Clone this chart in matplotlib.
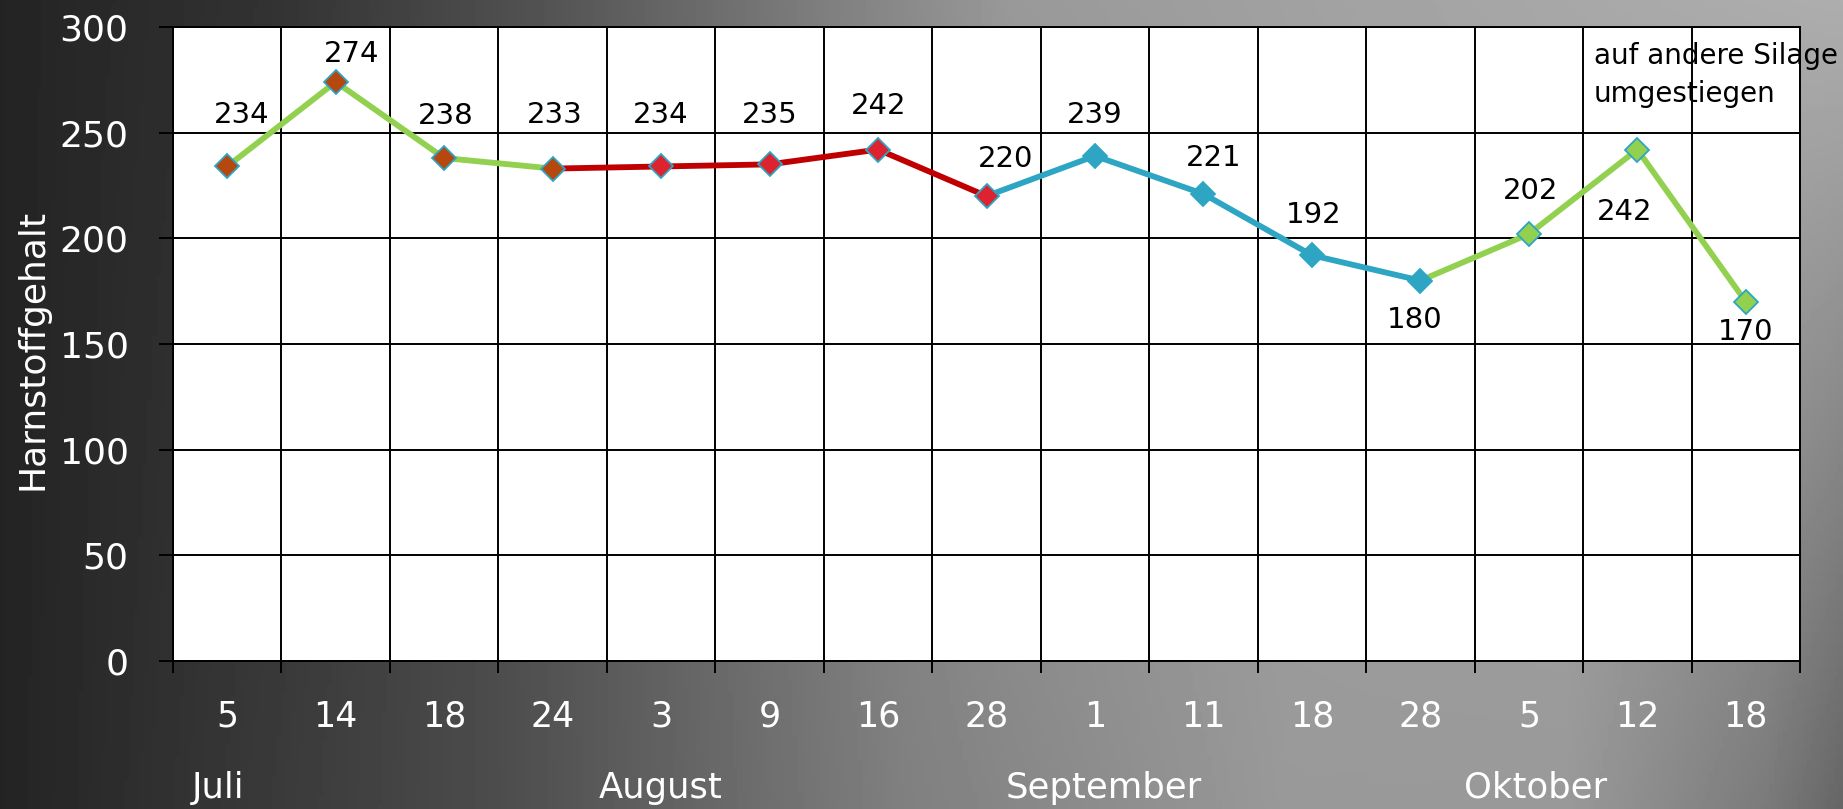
import numpy as np
import matplotlib.pyplot as plt
from matplotlib import transforms

dates = ['5', '14', '18', '24', '3', '9', '16', '28', '1', '11', '18', '28', '5', '12', '18']
values = [234, 274, 238, 233, 234, 235, 242, 220, 239, 221, 192, 180, 202, 242, 170]
months = ['Juli', 'August', 'September', 'Oktober']
month_first = [0, 4, 8, 12]   # index of the first date of each month
note = 'auf andere Silage\numgestiegen'

# line pieces (first index, last index, colour)
line_parts = [(0, 3, '#92D050'), (3, 7, '#C00000'), (7, 11, '#2EA5C3'), (11, 14, '#92D050')]
# marker groups (first index, last index, fill colour)
marker_parts = [(0, 3, '#B5470F'), (4, 7, '#DD2230'), (8, 11, '#2EA5C3'), (12, 14, '#92D050')]

# where each value label sits relative to its point, in pixels
label_dx = [14, 16, 2, 2, 0, 0, 1, 19, 0, 10, 2, -6, 2, -13, 0]
label_dy = [54, 31, 45, 57, 54, 52, 47, 40, 44, 39, 43, -36, 46, -59, -27]
month_nudge = [-0.08, 0, 0.08, 0.06]

W, H = 1843, 809
fig = plt.figure(figsize=(W / 100, H / 100), dpi=100)

# grey gradient background, dark on the left, light on the right
u = np.linspace(0, 1, 400)
top = np.interp(u, [0, 0.15, 0.3, 0.45, 0.55, 0.75, 1.0],
                [0.14, 0.20, 0.33, 0.50, 0.60, 0.64, 0.68])
bottom = np.interp(u, [0, 0.27, 0.49, 0.7, 0.85, 0.96, 1.0],
                   [0.14, 0.30, 0.50, 0.60, 0.60, 0.48, 0.40])
w = np.linspace(0, 1, 200)[:, None]
img = top[None, :] * (1 - w) + bottom[None, :] * w
bg = fig.add_axes([0, 0, 1, 1], zorder=0)
bg.imshow(img, cmap='gray', vmin=0, vmax=1, aspect='auto', extent=[0, 1, 0, 1])
bg.axis('off')

ax = fig.add_axes([173 / W, 1 - 661 / H, 1627 / W, 634 / H], zorder=1)
ax.set_facecolor('white')
x = np.arange(len(values))

for s, e, c in line_parts:
    ax.plot(x[s:e + 1], values[s:e + 1], color=c, lw=4.2, zorder=3)

for s, e, c in marker_parts:
    ax.plot(x[s:e + 1], values[s:e + 1], ls='none', marker='D', ms=12,
            mfc=c, mec='#2EA5C3', mew=1.3, zorder=4)

for i, v in enumerate(values):
    ax.annotate(str(v), (i, v), xytext=(label_dx[i], label_dy[i]),
                textcoords='offset pixels', ha='center', va='center_baseline',
                fontsize=21, color='black', zorder=5)

ax.text(12.6, 293, note, fontsize=20, ha='left', va='top', linespacing=1.45, zorder=5)

ax.set_xlim(-0.5, len(values) - 0.5)
ax.set_ylim(0, 300)
ax.set_xticks(np.arange(-0.5, len(values), 1))
ax.set_xticklabels([])
ax.set_xticks(x, minor=True)
ax.set_xticklabels(dates, minor=True)
ax.set_yticks(range(0, 301, 50))
ax.grid(True, which='major', color='black', lw=1.4)
ax.set_axisbelow(True)

ax.tick_params(axis='x', which='major', direction='out', length=8.6, width=1.4, color='black')
ax.tick_params(axis='x', which='minor', length=0, pad=28, labelsize=25, labelcolor='white')
ax.tick_params(axis='y', direction='out', length=10, width=1.4, pad=22,
               labelsize=26, labelcolor='white', color='black')
for sp in ax.spines.values():
    sp.set_color('black')
    sp.set_linewidth(1.4)

trans = transforms.blended_transform_factory(ax.transData, ax.transAxes)
for m, i, dx in zip(months, month_first, month_nudge):
    ax.text(i + dx, -0.2, m, transform=trans, ha='center', va='center',
            fontsize=25.5, color='white')

fig.text(33 / W, 1 - 349 / H, 'Harnstoffgehalt', rotation=90, ha='center',
         va='center', fontsize=26, color='white')

fig.savefig('out.png', dpi=100)
